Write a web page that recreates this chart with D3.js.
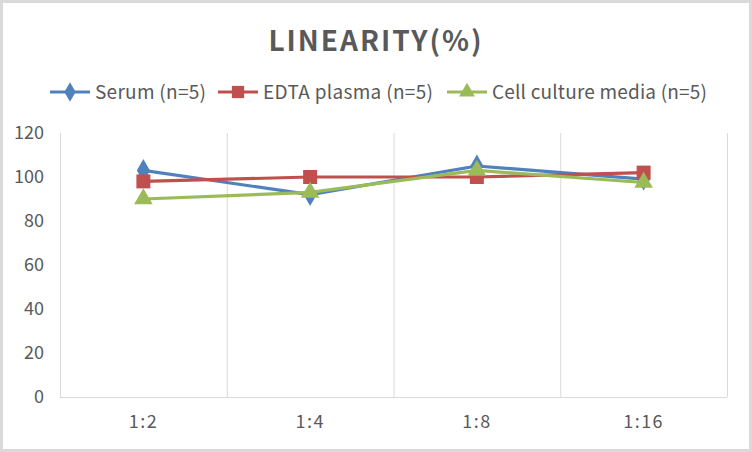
<!DOCTYPE html>
<html lang="en">
<head>
    <meta charset="UTF-8">
    <title>LINEARITY(%)</title>
    <script src="https://cdn.jsdelivr.net/npm/d3@7"></script>
    <style>
        html, body {
            margin: 0;
            padding: 0;
            background: #fff;
        }

        svg text {
            font-family: "Noto Sans CJK KR", "Noto Sans", sans-serif;
            fill: #595959;
        }
    </style>
</head>
<body>
<svg id="chart" width="752" height="452"></svg>
<script>
    // values
    var categories = ['1:2', '1:4', '1:8', '1:16']
    var serum = [103, 92, 105, 99]
    var edta = [98, 100, 100, 102]
    var cellMedia = [90, 93, 103, 97.5]
    var yTicks = [0, 20, 40, 60, 80, 100, 120]

    var seriesNames = ['Serum (n=5)', 'EDTA plasma (n=5)', 'Cell culture media (n=5)']
    var seriesColors = ['#4f81bd', '#c0504d', '#9bbb59']
    var seriesShapes = [d3.symbolDiamond, d3.symbolSquare, d3.symbolTriangle]
    var seriesValues = [serum, edta, cellMedia]

    var W = 752, H = 452
    var plot = {left: 60, right: 727, top: 133, bottom: 397}
    var FONT = '"Noto Sans CJK KR", "Noto Sans", sans-serif'

    var svg = d3.select('#chart')

    // frame
    svg.append('rect')
      .attr('x', 1.5).attr('y', 1.5)
      .attr('width', W - 3).attr('height', H - 3)
      .attr('fill', '#fff')
      .attr('stroke', '#d9d9d9')
      .attr('stroke-width', 3)

    var x = d3.scaleBand().domain(categories).range([plot.left, plot.right])
    var y = d3.scaleLinear().domain([0, 120]).range([plot.bottom, plot.top])

    // vertical grid lines at band edges
    var edges = categories.map(function (c) { return x(c) }).concat([plot.right])
    svg.append('g').selectAll('line').data(edges).enter().append('line')
      .attr('x1', function (d) { return d + 0.5 })
      .attr('x2', function (d) { return d + 0.5 })
      .attr('y1', plot.top).attr('y2', plot.bottom)
      .attr('stroke', '#d9d9d9').attr('stroke-width', 1)

    // y axis labels only
    var yAxis = d3.axisLeft(y).tickValues(yTicks).tickSize(0).tickPadding(0)
    var gy = svg.append('g').attr('transform', 'translate(44,0)').call(yAxis)
    gy.select('.domain').remove()
    gy.selectAll('text').attr('font-size', 18).style('fill', '#595959')
      .attr('font-family', FONT)

    // x axis
    var xAxis = d3.axisBottom(x).tickSize(0).tickPadding(18)
    var gx = svg.append('g').attr('transform', 'translate(0,' + plot.bottom + ')').call(xAxis)
    gx.select('.domain').attr('stroke', '#d9d9d9').attr('d', 'M' + plot.left + ',0.5H' + plot.right)
    gx.selectAll('text').attr('font-size', 18).attr('letter-spacing', 1.5).style('fill', '#595959')
      .attr('font-family', FONT)

    // series
    var line = d3.line()
      .x(function (d, i) { return x(categories[i]) + x.bandwidth() / 2 })
      .y(function (d) { return y(d) })

    seriesValues.forEach(function (vals, s) {
        var g = svg.append('g')
        g.append('path').datum(vals)
          .attr('d', line)
          .attr('fill', 'none')
          .attr('stroke', seriesColors[s])
          .attr('stroke-width', 3.2)
          .attr('stroke-linejoin', 'round')
        g.selectAll('path.marker').data(vals).enter().append('path')
          .attr('class', 'marker')
          .attr('d', d3.symbol().type(seriesShapes[s]).size(s === 1 ? 196 : 150))
          .attr('transform', function (d, i) {
              return 'translate(' + (x(categories[i]) + x.bandwidth() / 2) + ',' + y(d) + ')'
          })
          .attr('fill', seriesColors[s])
    })

    // title
    svg.append('text')
      .attr('x', 376).attr('y', 51)
      .attr('text-anchor', 'middle')
      .attr('font-size', 28)
      .attr('font-weight', 'bold')
      .attr('letter-spacing', 2)
      .text('LINEARITY(%)')

    // legend
    var legendX = [50, 218, 447]
    var leg = svg.append('g')
    seriesNames.forEach(function (name, s) {
        var lx = legendX[s]
        leg.append('line')
          .attr('x1', lx).attr('x2', lx + 40)
          .attr('y1', 92).attr('y2', 92)
          .attr('stroke', seriesColors[s]).attr('stroke-width', 3)
        leg.append('path')
          .attr('d', d3.symbol().type(seriesShapes[s]).size(s === 1 ? 150 : 110))
          .attr('transform', 'translate(' + (lx + 20) + ',92)')
          .attr('fill', seriesColors[s])
        leg.append('text')
          .attr('x', lx + 45).attr('y', 99)
          .attr('font-size', 19)
          .attr('textLength', [111, 170, 215][s])
          .attr('lengthAdjust', 'spacing')
          .text(name)
    })
</script>
</body>
</html>
